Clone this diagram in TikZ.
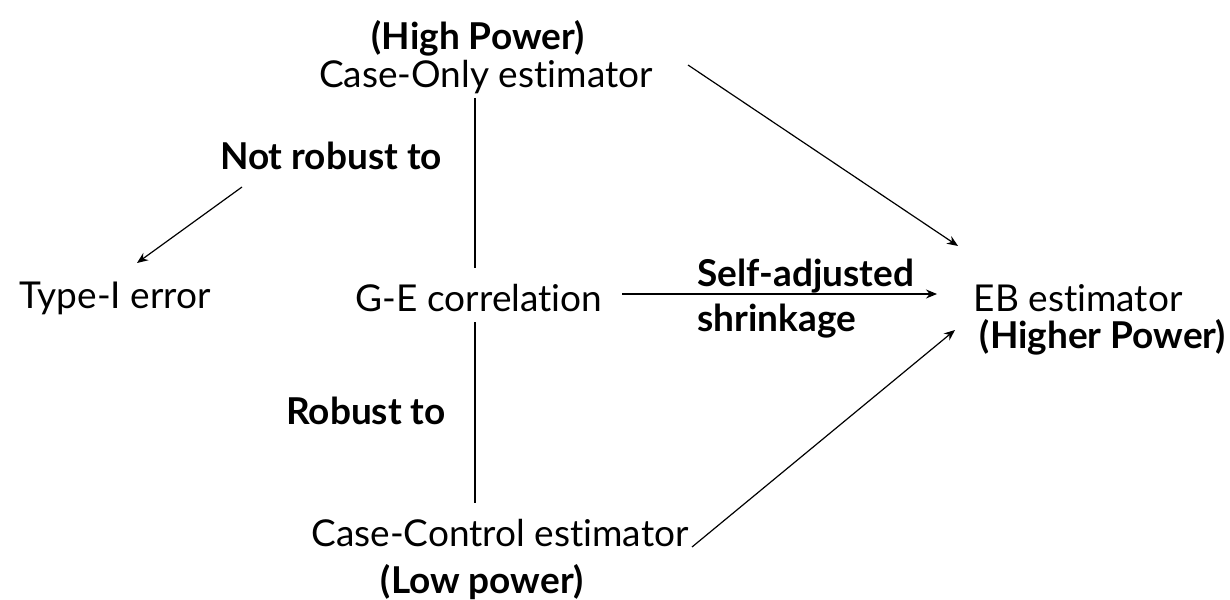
\documentclass[tikz,border=0pt]{standalone}
\usepackage{fontspec}
\setmainfont{Lato}[Ligatures={NoCommon}]
\usetikzlibrary{arrows.meta}
\begin{document}
\begin{tikzpicture}[x=1pt,y=-1pt,
  lbl/.style={font=\fontsize{37}{45}\selectfont, inner sep=0pt, anchor=center},
  blbl/.style={lbl, font=\fontsize{37}{45}\selectfont\bfseries},
  conn/.style={line width=1.2pt},
  arr/.style={conn, -{Stealth[length=11pt,width=9pt]}}]
\useasboundingbox (0,0) rectangle (1230,599);
\node[blbl] (hp) at (478,38) {(High Power)};
\node[lbl] (co) at (486,77) {Case-Only estimator};
\node[blbl] (nr) at (331,156) {Not robust to};
\node[lbl] (t1) at (115,298) {Type-I error};
\node[lbl] (ge) at (479,298) {G-E correlation};
\node[blbl, align=left, anchor=west] (sa) at (697,299) {Self-adjusted\\shrinkage};
\node[lbl] (eb) at (1078,298) {EB estimator};
\node[blbl] (hip) at (1103,337) {(Higher Power)};
\node[blbl] (rt) at (366,411) {Robust to};
\node[lbl] (cc) at (500,533) {Case-Control estimator};
\node[blbl] (lp) at (482,582) {(Low power)};
\coordinate (cotop) at (475,98);
\coordinate (gtop) at (475,268);
\coordinate (gbot) at (475,322);
\coordinate (cctop) at (475,503);
\draw[conn] (cotop) -- (gtop);
\draw[conn] (gbot) -- (cctop);
\coordinate (nrs) at (242,187);
\coordinate (t1e) at (137,263);
\draw[arr] (nrs) -- (t1e);
\coordinate (gee) at (622,294);
\coordinate (ebw) at (937,294);
\draw[arr] (gee) -- (ebw);
\coordinate (coe) at (688,65);
\coordinate (ebn) at (958,246);
\draw[arr] (coe) -- (ebn);
\coordinate (cce) at (692,547);
\coordinate (ebs) at (955,330);
\draw[arr] (cce) -- (ebs);
\end{tikzpicture}
\end{document}
